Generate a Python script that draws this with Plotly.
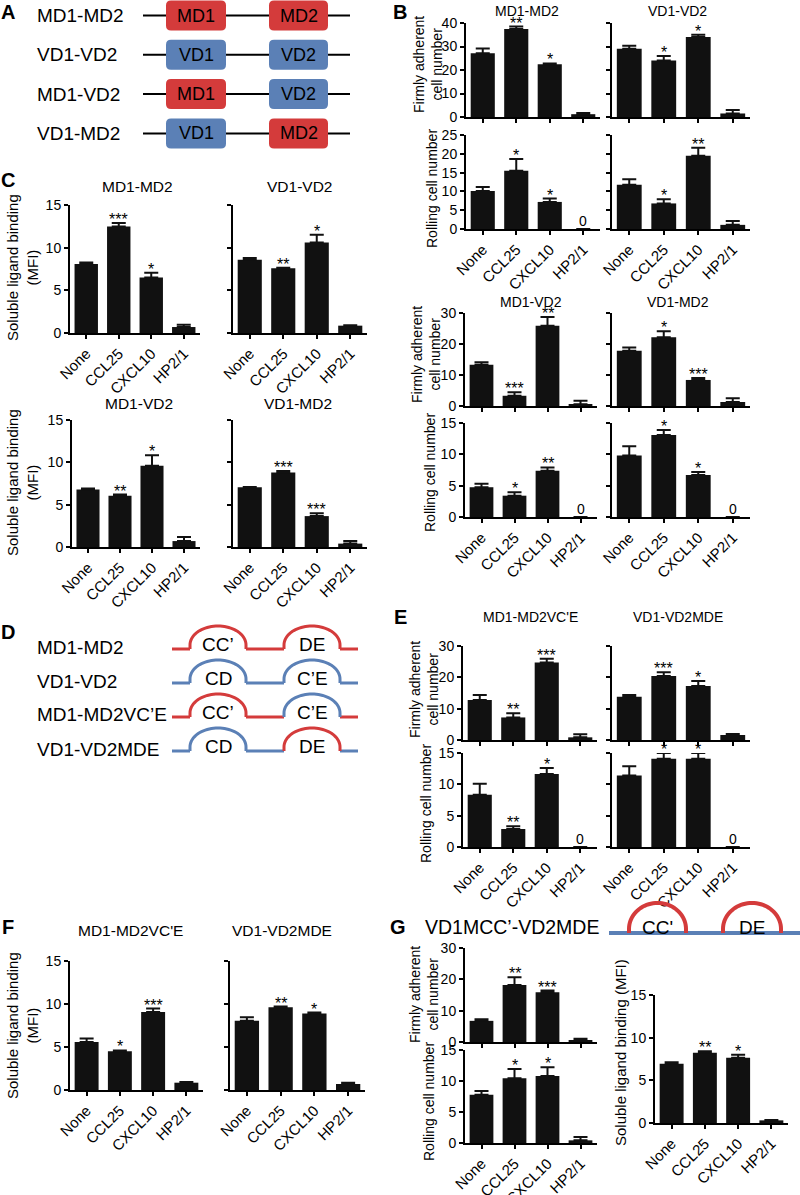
import plotly.graph_objects as go

W, H = 800, 1195
FONT = "Liberation Sans, Arial, Helvetica, sans-serif"
RED = "#D43B3B"
BLUE = "#5B80B6"
BAR = "#111111"

categories = ["None", "CCL25", "CXCL10", "HP2/1"]

# ---- B: firmly adherent / rolling cells ----
b_mm_adh = [27.1, 37.5, 22.4, 1.2]
b_mm_adh_sem = [2.0, 1.0, 0.4, 0.5]
b_mm_adh_sig = ["", "**", "*", ""]
b_mm_roll = [10.1, 15.5, 7.2, 0]
b_mm_roll_sem = [1.1, 3.1, 0.9, 0]
b_mm_roll_sig = ["", "*", "*", "0"]

b_vv_adh = [29.0, 24.0, 34.0, 1.5]
b_vv_adh_sem = [1.3, 2.0, 1.0, 1.5]
b_vv_adh_sig = ["", "*", "*", ""]
b_vv_roll = [11.8, 6.8, 19.5, 1.1]
b_vv_roll_sem = [1.4, 1.1, 2.1, 1.0]
b_vv_roll_sig = ["", "*", "**", ""]

b_mv_adh = [13.3, 3.3, 25.9, 0.6]
b_mv_adh_sem = [0.8, 1.1, 2.8, 1.1]
b_mv_adh_sig = ["", "***", "**", ""]
b_mv_roll = [4.75, 3.4, 7.4, 0]
b_mv_roll_sem = [0.55, 0.55, 0.5, 0]
b_mv_roll_sig = ["", "*", "**", "0"]

b_vm_adh = [17.8, 22.2, 8.4, 1.3]
b_vm_adh_sem = [1.1, 1.9, 0.6, 1.2]
b_vm_adh_sig = ["", "*", "***", ""]
b_vm_roll = [9.8, 13.1, 6.7, 0]
b_vm_roll_sem = [1.5, 0.8, 0.5, 0]
b_vm_roll_sig = ["", "*", "*", "0"]

# ---- C: soluble ligand binding (MFI) ----
c_mm = [8.1, 12.47, 6.5, 0.7]
c_mm_sem = [0.16, 0.43, 0.55, 0.27]
c_mm_sig = ["", "***", "*", ""]
c_vv = [8.57, 7.6, 10.6, 0.86]
c_vv_sem = [0.23, 0.05, 0.9, 0.04]
c_vv_sig = ["", "**", "*", ""]
c_mv = [6.8, 6.04, 9.6, 0.7]
c_mv_sem = [0.1, 0.16, 1.25, 0.48]
c_mv_sig = ["", "**", "*", ""]
c_vm = [7.06, 8.8, 3.65, 0.4]
c_vm_sem = [0.04, 0.18, 0.35, 0.3]
c_vm_sig = ["", "***", "***", ""]

# ---- E ----
e_mvce_adh = [12.8, 7.2, 24.7, 0.85]
e_mvce_adh_sem = [1.6, 1.3, 1.2, 0.95]
e_mvce_adh_sig = ["", "**", "***", ""]
e_mvce_roll = [8.35, 2.87, 11.65, 0]
e_mvce_roll_sem = [1.75, 0.43, 0.95, 0]
e_mvce_roll_sig = ["", "**", "*", "0"]
e_vmde_adh = [13.8, 20.4, 17.2, 1.6]
e_vmde_adh_sem = [0.6, 1.2, 1.6, 0.3]
e_vmde_adh_sig = ["", "***", "*", ""]
e_vmde_roll = [11.4, 14.1, 14.1, 0]
e_vmde_roll_sem = [1.5, 0.9, 0.9, 0]
e_vmde_roll_sig = ["", "*", "*", "0"]

# ---- F ----
f_mvce = [5.57, 4.52, 9.08, 0.85]
f_mvce_sem = [0.43, 0.08, 0.39, 0.08]
f_mvce_sig = ["", "*", "***", ""]
f_vmde = [8.04, 9.63, 8.9, 0.7]
f_vmde_sem = [0.43, 0.07, 0.1, 0.15]
f_vmde_sig = ["", "**", "*", ""]

# ---- G ----
g_adh = [6.75, 18.2, 15.9, 0.5]
g_adh_sem = [0.55, 2.5, 0.5, 0.5]
g_adh_sig = ["", "**", "***", ""]
g_roll = [7.77, 10.45, 10.8, 0.43]
g_roll_sem = [0.63, 1.5, 1.4, 0.53]
g_roll_sig = ["", "*", "*", ""]
g_mfi = [6.93, 8.22, 7.64, 0.31]
g_mfi_sem = [0.2, 0.18, 0.35, 0.04]
g_mfi_sig = ["", "**", "*", ""]


def px(x):
    return x / W


def py(y):
    return 1 - y / H


fig = go.Figure()
annotations = []
shapes = []
count = [0]


def bar_panel(mean, sem, sig, x0, x1, ytop, ybot, ymax, dtick, ylabels=True, xlabels=True):
    count[0] += 1
    n = count[0]
    xn = "x" if n == 1 else f"x{n}"
    yn = "y" if n == 1 else f"y{n}"
    fig.add_trace(go.Bar(
        x=categories, y=mean, xaxis=xn, yaxis=yn, marker_color=BAR,
        marker_line_width=0,
        error_y=dict(type="data", symmetric=False, array=sem, arrayminus=[0] * len(sem),
                     color=BAR, thickness=2, width=7),
    ))
    axis_common = dict(showline=True, linecolor="black", linewidth=2, ticks="outside",
                       ticklen=4, tickwidth=2, tickcolor="black", showgrid=False,
                       zeroline=False, fixedrange=True, automargin=False)
    fig.layout["xaxis" if n == 1 else f"xaxis{n}"] = dict(
        domain=[px(x0), px(x1)], anchor=yn, range=[-0.5, 3.5], tickangle=-45,
        showticklabels=xlabels, tickfont=dict(family=FONT, size=15, color="black"),
        **axis_common)
    fig.layout["yaxis" if n == 1 else f"yaxis{n}"] = dict(
        domain=[py(ybot), py(ytop)], anchor=xn, range=[0, ymax], dtick=dtick,
        showticklabels=ylabels, tickfont=dict(family=FONT, size=14, color="black"),
        **axis_common)
    for i, s in enumerate(sig):
        if not s:
            continue
        top = 0 if s == "0" else mean[i] + sem[i]
        annotations.append(dict(x=categories[i], y=top, xref=xn, yref=yn, text=s,
                                showarrow=False, yanchor="bottom",
                                yshift=-2 if s == "0" else -7,
                                font=dict(family=FONT, size=14 if s == "0" else 16,
                                          color="black")))


def text(x, y, s, size, anchor="center", bold=False, angle=0):
    annotations.append(dict(x=px(x), y=py(y), xref="paper", yref="paper",
                            text=f"<b>{s}</b>" if bold else s, showarrow=False,
                            xanchor=anchor, yanchor="middle", textangle=angle,
                            font=dict(family=FONT, size=size, color="black")))


def line(x0, y0, x1, y1, color, width):
    shapes.append(dict(type="line", xref="paper", yref="paper", x0=px(x0), y0=py(y0),
                       x1=px(x1), y1=py(y1), line=dict(color=color, width=width)))


def rounded_box(x0, y0, x1, y1, color, r=5):
    pts = [("M", x0 + r, y0), ("L", x1 - r, y0), ("Q", x1, y0, x1, y0 + r),
           ("L", x1, y1 - r), ("Q", x1, y1, x1 - r, y1), ("L", x0 + r, y1),
           ("Q", x0, y1, x0, y1 - r), ("L", x0, y0 + r), ("Q", x0, y0, x0 + r, y0)]
    path = ""
    for p in pts:
        coords = p[1:]
        conv = []
        for k in range(0, len(coords), 2):
            conv.append(f"{px(coords[k]):.5f},{py(coords[k + 1]):.5f}")
        path += p[0] + " ".join(conv) + " "
    shapes.append(dict(type="path", xref="paper", yref="paper", path=path + "Z",
                       fillcolor=color, line=dict(width=0)))


def arc(x0, x1, base, h, color, width, foot=4, steps=40):
    import math
    cx = (x0 + x1) / 2
    rx = (x1 - x0) / 2
    ry = h - foot
    yc = base - foot
    pts = [(x0, base)]
    for k in range(steps + 1):
        t = math.pi - math.pi * k / steps
        pts.append((cx + rx * math.cos(t), yc - ry * math.sin(t)))
    pts.append((x1, base))
    path = "M" + " L".join(f"{px(a):.5f},{py(b):.5f}" for a, b in pts)
    shapes.append(dict(type="path", xref="paper", yref="paper", path=path,
                       line=dict(color=color, width=width)))


# ---------- Panel A ----------
text(8, 12, "A", 20, bold=True)
a_rows = [("MD1-MD2", "MD1", RED, "MD2", RED), ("VD1-VD2", "VD1", BLUE, "VD2", BLUE),
          ("MD1-VD2", "MD1", RED, "VD2", BLUE), ("VD1-MD2", "VD1", BLUE, "MD2", RED)]
for k, (lab, d1, c1, d2, c2) in enumerate(a_rows):
    yc = 15.5 + k * 39.3
    text(35, yc, lab, 19, anchor="left")
    line(143, yc, 350, yc, "black", 2)
    rounded_box(166, yc - 15, 226, yc + 15, c1)
    rounded_box(269, yc - 15, 328, yc + 15, c2)
    text(196, yc, d1, 18)
    text(298.5, yc, d2, 18)

# ---------- Panel B ----------
text(400, 12, "B", 20, bold=True)
text(527, 11, "MD1-MD2", 14)
text(677, 11, "VD1-VD2", 14)
bar_panel(b_mm_adh, b_mm_adh_sem, b_mm_adh_sig, 466, 600, 23, 117, 40, 10, xlabels=False)
bar_panel(b_mm_roll, b_mm_roll_sem, b_mm_roll_sig, 466, 600, 135, 229, 25, 5)
bar_panel(b_vv_adh, b_vv_adh_sem, b_vv_adh_sig, 612, 750, 23, 117, 40, 10, ylabels=False, xlabels=False)
bar_panel(b_vv_roll, b_vv_roll_sem, b_vv_roll_sig, 612, 750, 135, 229, 25, 5, ylabels=False)
text(428, 65, "Firmly adherent<br>cell number", 14, angle=-90)
text(432, 189, "Rolling cell number", 14, angle=-90)

text(531, 302, "MD1-VD2", 14)
text(678, 302, "VD1-MD2", 14)
bar_panel(b_mv_adh, b_mv_adh_sem, b_mv_adh_sig, 465, 597, 313, 406, 30, 10, xlabels=False)
bar_panel(b_mv_roll, b_mv_roll_sem, b_mv_roll_sig, 465, 597, 423, 517, 15, 5)
bar_panel(b_vm_adh, b_vm_adh_sem, b_vm_adh_sig, 612, 750, 313, 406, 30, 10, ylabels=False, xlabels=False)
bar_panel(b_vm_roll, b_vm_roll_sem, b_vm_roll_sig, 612, 750, 423, 517, 15, 5, ylabels=False)
text(426, 355, "Firmly adherent<br>cell number", 14, angle=-90)
text(430, 473, "Rolling cell number", 14, angle=-90)

# ---------- Panel C ----------
text(8, 180, "C", 20, bold=True)
text(137, 187, "MD1-MD2", 15.5)
text(299, 187, "VD1-VD2", 15.5)
bar_panel(c_mm, c_mm_sem, c_mm_sig, 70, 200, 205, 333, 15, 5)
bar_panel(c_vv, c_vv_sem, c_vv_sig, 233, 367, 205, 333, 15, 5, ylabels=False)
text(22, 268, "Soluble ligand binding<br>(MFI)", 15, angle=-90)
text(139, 403, "MD1-VD2", 15.5)
text(298, 403, "VD1-MD2", 15.5)
bar_panel(c_mv, c_mv_sem, c_mv_sig, 72, 200, 420, 547, 15, 5)
bar_panel(c_vm, c_vm_sem, c_vm_sig, 233, 367, 420, 547, 15, 5, ylabels=False)
text(22, 483, "Soluble ligand binding<br>(MFI)", 15, angle=-90)

# ---------- Panel D ----------
text(8, 632, "D", 20, bold=True)
d_rows = [("MD1-MD2", RED, "CC’", RED, "DE", RED),
          ("VD1-VD2", BLUE, "CD", BLUE, "C’E", BLUE),
          ("MD1-MD2VC’E", RED, "CC’", RED, "C’E", BLUE),
          ("VD1-VD2MDE", BLUE, "CD", BLUE, "DE", RED)]
for k, (lab, base_c, t1, c1, t2, c2) in enumerate(d_rows):
    base = 649 + k * 34
    text(35, base - 2, lab, 19, anchor="left")
    line(172, base, 190, base, base_c, 3)
    line(246, base, 284, base, base_c, 3)
    line(340, base, 358, base, base_c, 3)
    arc(190, 246, base, 23, c1, 3)
    arc(284, 340, base, 23, c2, 3)
    text(218, base - 5, t1, 19)
    text(312, base - 5, t2, 19)

# ---------- Panel E ----------
text(400, 617, "E", 20, bold=True)
text(530, 617, "MD1-MD2VC'E", 14)
text(678, 617, "VD1-VD2MDE", 14)
bar_panel(e_mvce_adh, e_mvce_adh_sem, e_mvce_adh_sig, 463, 597, 646, 740, 30, 10, xlabels=False)
bar_panel(e_mvce_roll, e_mvce_roll_sem, e_mvce_roll_sig, 463, 597, 753, 847, 15, 5)
bar_panel(e_vmde_adh, e_vmde_adh_sem, e_vmde_adh_sig, 612, 750, 646, 740, 30, 10, ylabels=False, xlabels=False)
bar_panel(e_vmde_roll, e_vmde_roll_sem, e_vmde_roll_sig, 612, 750, 753, 847, 15, 5, ylabels=False)
text(424, 690, "Firmly adherent<br>cell number", 14, angle=-90)
text(426, 804, "Rolling cell number", 14, angle=-90)

# ---------- Panel F ----------
text(8, 927, "F", 20, bold=True)
text(130, 930, "MD1-MD2VC'E", 15.5)
text(282, 930, "VD1-VD2MDE", 15.5)
bar_panel(f_mvce, f_mvce_sem, f_mvce_sig, 70, 203, 961, 1090, 15, 5)
bar_panel(f_vmde, f_vmde_sem, f_vmde_sig, 230, 365, 961, 1090, 15, 5, ylabels=False)
text(22, 1026, "Soluble ligand binding<br>(MFI)", 15, angle=-90)

# ---------- Panel G ----------
text(398, 927, "G", 20, bold=True)
text(423, 927, "VD1MCC’-VD2MDE", 19.5, anchor="left")
line(609, 933, 800, 933, BLUE, 4)
arc(629, 686, 933, 30, RED, 4)
arc(723, 781, 933, 30, RED, 4)
text(657, 927, "CC'", 19)
text(752, 927, "DE", 19)
bar_panel(g_adh, g_adh_sem, g_adh_sig, 465, 597, 948, 1042, 30, 10, xlabels=False)
bar_panel(g_roll, g_roll_sem, g_roll_sig, 465, 597, 1050, 1143, 15, 5)
bar_panel(g_mfi, g_mfi_sem, g_mfi_sig, 655, 788, 995, 1123, 15, 5)
text(424, 995, "Firmly adherent<br>cell number", 14, angle=-90)
text(429, 1102, "Rolling cell number", 14, angle=-90)
text(620, 1053, "Soluble ligand binding (MFI)", 15, angle=-90)

fig.update_layout(
    template="none",
    width=W, height=H, autosize=False,
    margin=dict(l=0, r=0, t=0, b=0, pad=0),
    paper_bgcolor="white", plot_bgcolor="white",
    showlegend=False, bargap=0.28,
    font=dict(family=FONT, color="black"),
    annotations=annotations, shapes=shapes,
)

# drop the default page margin so the figure sits at the window's top-left corner
fig.write_html("out.html", config={"displayModeBar": False},
               post_script="document.body.style.margin='0px';")
